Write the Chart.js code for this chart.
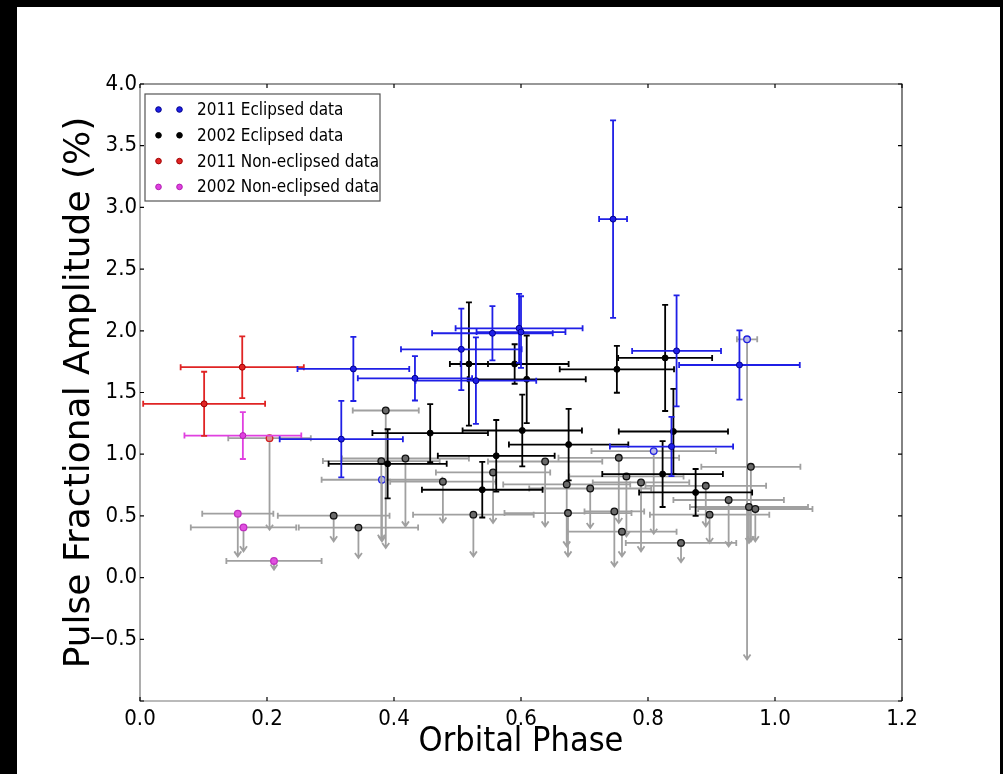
<!DOCTYPE html>
<html>
<head>
<meta charset="utf-8">
<script src="https://cdn.jsdelivr.net/npm/chart.js@4.4.1/dist/chart.umd.min.js"></script>
<style>
  html, body { margin: 0; padding: 0; background: #000; }
  #quadro { position: absolute; left: 17px; top: 7px; width: 983px; height: 767px; background: #fff; }
</style>
</head>
<body>
<div id="quadro"><canvas id="grafico"></canvas></div>
<script>
// eixos
var ticksX = [0.0, 0.2, 0.4, 0.6, 0.8, 1.0, 1.2];
var ticksY = [-1.0, -0.5, 0.0, 0.5, 1.0, 1.5, 2.0, 2.5, 3.0, 3.5, 4.0];

// 2011 eclipsed (detections)
var ecl2011X    = [0.317, 0.336, 0.433, 0.506, 0.529, 0.555, 0.597, 0.600, 0.745, 0.845, 0.944, 0.837];
var ecl2011Y    = [1.122, 1.691, 1.615, 1.850, 1.596, 1.980, 2.020, 1.990, 2.905, 1.837, 1.723, 1.062];
var ecl2011XErr = [0.097, 0.088, 0.090, 0.095, 0.095, 0.095, 0.100, 0.070, 0.022, 0.070, 0.095, 0.097];
var ecl2011YErr = [0.310, 0.260, 0.180, 0.330, 0.350, 0.220, 0.280, 0.290, 0.800, 0.450, 0.280, 0.240];

// 2002 eclipsed (detections)
var ecl2002X    = [0.457, 0.390, 0.518, 0.590, 0.609, 0.602, 0.675, 0.561, 0.539, 0.751, 0.827, 0.840, 0.823, 0.875];
var ecl2002Y    = [1.171, 0.922, 1.731, 1.731, 1.607, 1.192, 1.078, 0.987, 0.712, 1.688, 1.780, 1.184, 0.839, 0.690];
var ecl2002XErr = [0.091, 0.093, 0.030, 0.085, 0.093, 0.094, 0.094, 0.092, 0.095, 0.090, 0.074, 0.086, 0.095, 0.089];
var ecl2002YErr = [0.235, 0.280, 0.500, 0.160, 0.355, 0.290, 0.290, 0.290, 0.225, 0.190, 0.430, 0.345, 0.267, 0.190];

// 2011 non-eclipsed (detections)
var non2011X    = [0.161, 0.101];
var non2011Y    = [1.705, 1.408];
var non2011XErr = [0.097, 0.096];
var non2011YErr = [0.250, 0.260];

// 2002 non-eclipsed (detections)
var non2002X    = [0.162];
var non2002Y    = [1.151];
var non2002XErr = [0.092];
var non2002YErr = [0.190];

// upper limits: value, x error, end of the arrow
var ulEcl2002X    = [0.387, 0.380, 0.418, 0.477, 0.305, 0.344, 0.525, 0.556, 0.638, 0.672, 0.674, 0.709, 0.754, 0.766, 0.747, 0.759, 0.789, 0.852, 0.891, 0.897, 0.927, 0.962, 0.959, 0.969];
var ulEcl2002Y    = [1.354, 0.944, 0.965, 0.777, 0.502, 0.405, 0.510, 0.852, 0.941, 0.755, 0.523, 0.722, 0.971, 0.820, 0.536, 0.372, 0.771, 0.281, 0.744, 0.510, 0.629, 0.898, 0.572, 0.556];
var ulEcl2002XErr = [0.052, 0.092, 0.100, 0.083, 0.088, 0.094, 0.095, 0.090, 0.090, 0.100, 0.100, 0.096, 0.095, 0.090, 0.047, 0.086, 0.076, 0.087, 0.095, 0.094, 0.087, 0.078, 0.093, 0.090];
var ulEcl2002Low  = [0.240, 0.307, 0.415, 0.447, 0.294, 0.159, 0.172, 0.443, 0.415, 0.253, 0.172, 0.402, 0.443, 0.334, 0.091, 0.172, 0.213, 0.124, 0.415, 0.281, 0.253, 0.294, 0.281, 0.294];

var ulEcl2011X    = [0.381, 0.809, 0.956];
var ulEcl2011Y    = [0.793, 1.025, 1.931];
var ulEcl2011XErr = [0.095, 0.098, 0.016];
var ulEcl2011Low  = [0.294, 0.356, -0.663];

var ulNon2011X    = [0.204];
var ulNon2011Y    = [1.130];
var ulNon2011XErr = [0.065];
var ulNon2011Low  = [0.388];

var ulNon2002X    = [0.154, 0.163, 0.211];
var ulNon2002Y    = [0.518, 0.407, 0.135];
var ulNon2002XErr = [0.056, 0.083, 0.075];
var ulNon2002Low  = [0.172, 0.213, 0.065];

function pontos(xs, ys, xe, ye) {
    return xs.map(function (x, i) { return { x: x, y: ys[i], xErr: xe[i], yErr: ye[i] }; });
}
function limites(xs, ys, xe, low) {
    return xs.map(function (x, i) { return { x: x, y: ys[i], xErr: xe[i], low: low[i] }; });
}
function rotulo(v) {
    var s = (Math.round(v * 10) / 10).toFixed(1);
    return s.replace('-', '\u2212');
}

// barras de erro desenhadas pelas escalas
const barrasErro = {
    id: 'barrasErro',
    beforeDatasetDraw(chart, args) {
        const ds = chart.data.datasets[args.index];
        const sx = chart.scales.x, sy = chart.scales.y;
        const ctx = chart.ctx;
        const cap = 3;
        ctx.save();
        ctx.strokeStyle = ds.barColor;
        ctx.lineWidth = 1.8;
        ds.data.forEach(function (p) {
            const px = sx.getPixelForValue(p.x);
            const py = sy.getPixelForValue(p.y);
            const x0 = sx.getPixelForValue(p.x - p.xErr);
            const x1 = sx.getPixelForValue(p.x + p.xErr);
            ctx.beginPath();
            ctx.moveTo(x0, py); ctx.lineTo(x1, py);
            ctx.moveTo(x0, py - cap); ctx.lineTo(x0, py + cap);
            ctx.moveTo(x1, py - cap); ctx.lineTo(x1, py + cap);
            if (p.low !== undefined) {
                const yl = sy.getPixelForValue(p.low);
                ctx.moveTo(px, py); ctx.lineTo(px, yl);
                ctx.moveTo(px - 3.5, yl - 5); ctx.lineTo(px, yl); ctx.lineTo(px + 3.5, yl - 5);
            } else {
                const y0 = sy.getPixelForValue(p.y - p.yErr);
                const y1 = sy.getPixelForValue(p.y + p.yErr);
                ctx.moveTo(px, y0); ctx.lineTo(px, y1);
                ctx.moveTo(px - cap, y0); ctx.lineTo(px + cap, y0);
                ctx.moveTo(px - cap, y1); ctx.lineTo(px + cap, y1);
            }
            ctx.stroke();
        });
        ctx.restore();
    }
};

// moldura e ticks para dentro (estilo matplotlib)
const moldura = {
    id: 'moldura',
    afterDatasetsDraw(chart) {
        const ctx = chart.ctx, a = chart.chartArea;
        const sx = chart.scales.x, sy = chart.scales.y;
        ctx.save();
        ctx.lineWidth = 1.2;
        ctx.strokeStyle = '#333';
        ctx.beginPath();
        ctx.moveTo(a.left, a.top); ctx.lineTo(a.right, a.top); ctx.lineTo(a.right, a.bottom);
        ctx.stroke();
        ctx.strokeStyle = '#777';
        ctx.beginPath();
        ctx.moveTo(a.left, a.top); ctx.lineTo(a.left, a.bottom); ctx.lineTo(a.right, a.bottom);
        ctx.stroke();
        ctx.strokeStyle = '#000';
        ctx.beginPath();
        ticksX.forEach(function (v) {
            const x = sx.getPixelForValue(v);
            ctx.moveTo(x, a.bottom); ctx.lineTo(x, a.bottom - 4);
            ctx.moveTo(x, a.top); ctx.lineTo(x, a.top + 4);
        });
        ticksY.forEach(function (v) {
            const y = sy.getPixelForValue(v);
            ctx.moveTo(a.left, y); ctx.lineTo(a.left + 4, y);
            ctx.moveTo(a.right, y); ctx.lineTo(a.right - 4, y);
        });
        ctx.stroke();
        ctx.restore();
    }
};

// legenda dentro da area do grafico
const legenda = {
    id: 'legenda',
    afterDraw(chart) {
        const ctx = chart.ctx, a = chart.chartArea;
        const left = a.left + 5, top = a.top + 10, w = 235, h = 107;
        ctx.save();
        ctx.fillStyle = '#fff';
        ctx.fillRect(left, top, w, h);
        ctx.strokeStyle = '#555';
        ctx.lineWidth = 1.2;
        ctx.strokeRect(left, top, w, h);
        const itens = chart.data.datasets.filter(function (d) { return d.naLegenda; });
        itens.forEach(function (d, i) {
            const cy = top + 15.5 + i * 25.8;
            [13.5, 34.5].forEach(function (dx) {
                ctx.beginPath();
                ctx.arc(left + dx, cy, 2.8, 0, Math.PI * 2);
                ctx.fillStyle = d.pointBackgroundColor;
                ctx.fill();
                ctx.lineWidth = 1;
                ctx.strokeStyle = d.pointBorderColor;
                ctx.stroke();
            });
            ctx.fillStyle = '#000';
            ctx.font = '17px "DejaVu Sans Condensed"';
            ctx.textBaseline = 'middle';
            ctx.textAlign = 'left';
            ctx.fillText(d.label, left + 52, cy + 1);
        });
        ctx.restore();
    }
};

function serieDeteccao(label, data, cor, borda, ordem) {
    return {
        label: label, data: data, naLegenda: true, barColor: cor,
        pointRadius: 3, pointHoverRadius: 3, pointBorderWidth: 1,
        pointBackgroundColor: cor, pointBorderColor: borda, order: ordem
    };
}
function serieLimite(label, data, fundo, borda, ordem) {
    return {
        label: label, data: data, naLegenda: false, barColor: '#a0a0a0',
        pointRadius: 3.3, pointHoverRadius: 3.3, pointBorderWidth: 1.3,
        pointBackgroundColor: fundo, pointBorderColor: borda, order: ordem
    };
}

const ctx = document.getElementById('grafico');

new Chart(ctx, {
    type: 'scatter',
    data: {
        datasets: [
            serieDeteccao('2011 Eclipsed data', pontos(ecl2011X, ecl2011Y, ecl2011XErr, ecl2011YErr), '#1f1fe6', '#00008a', 1),
            serieDeteccao('2002 Eclipsed data', pontos(ecl2002X, ecl2002Y, ecl2002XErr, ecl2002YErr), '#000000', '#000000', 2),
            serieDeteccao('2011 Non-eclipsed data', pontos(non2011X, non2011Y, non2011XErr, non2011YErr), '#e02424', '#a00000', 3),
            serieDeteccao('2002 Non-eclipsed data', pontos(non2002X, non2002Y, non2002XErr, non2002YErr), '#e040e0', '#b020b0', 4),
            serieLimite('2002 Eclipsed upper limits', limites(ulEcl2002X, ulEcl2002Y, ulEcl2002XErr, ulEcl2002Low), '#6a6a6a', '#111111', 5),
            serieLimite('2011 Eclipsed upper limits', limites(ulEcl2011X, ulEcl2011Y, ulEcl2011XErr, ulEcl2011Low), '#b8b8e8', '#2020e0', 6),
            serieLimite('2011 Non-eclipsed upper limits', limites(ulNon2011X, ulNon2011Y, ulNon2011XErr, ulNon2011Low), '#d89090', '#d02020', 7),
            serieLimite('2002 Non-eclipsed upper limits', limites(ulNon2002X, ulNon2002Y, ulNon2002XErr, ulNon2002Low), '#e050e0', '#c030c0', 8)
        ]
    },
    options: {
        responsive: true,
        maintainAspectRatio: false,
        animation: false,
        layout: { padding: { top: 77, right: 98, left: 0, bottom: 0 } },
        scales: {
            x: {
                type: 'linear', min: 0, max: 1.2,
                afterFit: function (s) { s.height = 73; },
                afterBuildTicks: function (s) { s.ticks = ticksX.map(function (v) { return { value: v }; }); },
                grid: { display: false, drawTicks: false },
                border: { display: false },
                ticks: {
                    color: '#000', padding: 5,
                    font: { family: 'DejaVu Sans Condensed', size: 22 },
                    callback: function (v) { return rotulo(v); }
                },
                title: {
                    display: true, text: 'Orbital Phase', color: '#000',
                    font: { family: 'DejaVu Sans Condensed', size: 34, lineHeight: 1.2 },
                    padding: { top: 0, bottom: 11 }
                }
            },
            y: {
                type: 'linear', min: -1, max: 4,
                afterFit: function (s) { s.width = 123; },
                afterBuildTicks: function (s) { s.ticks = ticksY.map(function (v) { return { value: v }; }); },
                grid: { display: false, drawTicks: false },
                border: { display: false },
                ticks: {
                    color: '#000', padding: 3,
                    font: { family: 'DejaVu Sans Condensed', size: 22 },
                    callback: function (v) { return v <= -1 ? '' : rotulo(v); }
                },
                title: {
                    display: true, text: 'Pulse Fractional Amplitude (%)', color: '#000',
                    font: { family: 'DejaVu Sans', size: 36, lineHeight: 1.2 },
                    padding: { top: 41, bottom: 0 }
                }
            }
        },
        plugins: {
            legend: { display: false },
            tooltip: { enabled: false }
        }
    },
    plugins: [barrasErro, moldura, legenda]
});
</script>
</body>
</html>
